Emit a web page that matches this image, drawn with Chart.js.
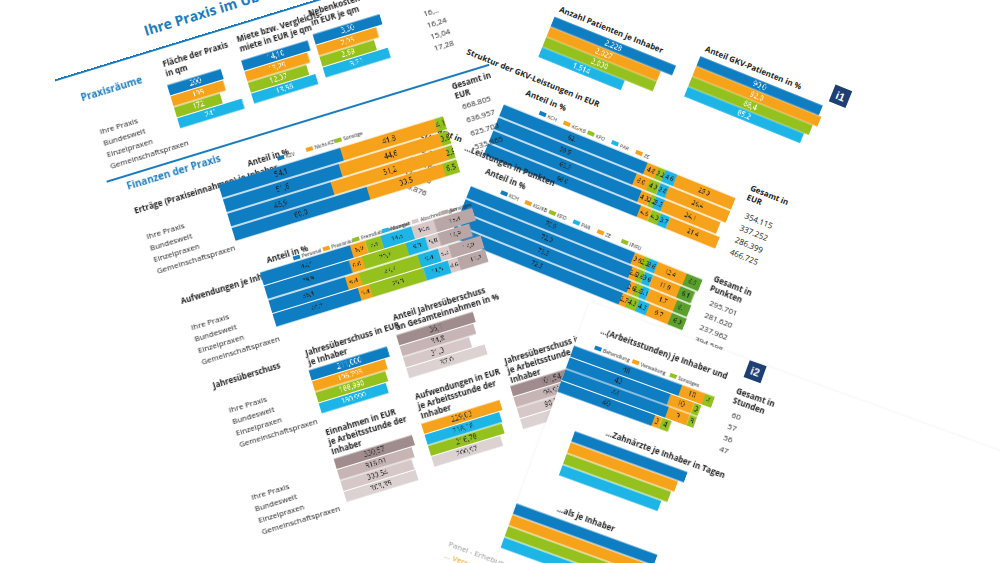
<!DOCTYPE html>
<html><head><meta charset="utf-8">
<script src="https://cdn.jsdelivr.net/npm/chart.js@4.4.1/dist/chart.umd.min.js"></script>
<style>
body{margin:0;width:1000px;height:563px;overflow:hidden;background:#fff;font-family:"Open Sans",Calibri,sans-serif;position:relative}
.page{position:absolute;transform-origin:0 0;width:520px;height:640px}
.t{position:absolute;font-size:8px;color:#222;white-space:nowrap;line-height:10px}
.b{font-weight:bold}
.h{position:absolute;font-weight:bold;color:#1a7cc0;font-size:10px;white-space:nowrap}
.line{position:absolute;height:1.5px;background:#1a7cc0}
.icon{position:absolute;width:18px;height:18px;background:#1d3f73;color:#fff;font:bold 11px sans-serif;text-align:center;line-height:18px}
canvas{position:absolute}
</style></head><body>
<script>
const rows = ['Ihre Praxis', 'Bundesweit', 'Einzelpraxen', 'Gemeinschaftspraxen'];
const C = {blue:'#0f7dc2', orange:'#f7a21b', green:'#95c11f', cyan:'#1cb5e5', g1:'#d8c8c8', g2:'#b9a6a6'};

// Praxisräume
const flaeche = [200, 195, 172, 241];
const miete = [14.10, 13.29, 12.37, 13.56];
const nebenkosten = [3.30, 2.95, 2.69, 3.21];
const raumGesamt = ['16,..', '16,24', '15,04', '17,28'];
// Erträge
const ertragLegend = ['KZV', 'Nicht-KZV', 'Sonstige'];
const ertragKZV = [54.1, 51.6, 45.9, 60.0];
const ertragNicht = [41.8, 44.6, 51.2, 33.5];
const ertragSonst = [4.1, 3.8, 2.9, 6.5];
const ertragGesamt = ['668.805', '636.957', '625.703', '535.865'];
// Aufwendungen
const aufwLegend = ['Personal', 'Praxisräume', 'Fremdlaborleistungen', 'Material', 'Abschreibungen', 'Sonstiges'];
const aufwPersonal = [42.4, 39.9, 36.1, 40.2];
const aufwRaeume = [6.9, 6.0, 6.4, 5.4];
const aufwLabor = [7.3, 20.7, 27.7, 25.3];
const aufwMaterial = [14.5, 9.3, 9.4, 11.5];
const aufwAbschr = [10.6, 5.8, 5.2, 4.6];
const aufwSonst = [18.4, 14.9, 17.0, 15.8];
// Jahresüberschuss
const jue = [211000, 196793, 188990, 180990];
const jueAnteil = [36.1, 34.8, 31.3, 37.0];
const einnStd = [330.57, 316.01, 300.54, 303.35];
const aufwStd = [229.03, 218.18, 216.78, 200.97];
const jueStd = [101.54, 96.91, 90.50, 100.69];
// Patienten
const patienten = [2228, 2027, 2030, 1514];
const gkvAnteil = [90.0, 92.0, 88.4, 85.2];
// GKV-Leistungen EUR
const gkvLegend = ['KCH', 'KG/KB', 'KFO', 'PAR', 'ZE'];
const eKCH = [62.1, 59.5, 63.9, 66.0];
const eKG = [4.8, 6.0, 4.3, 4.6];
const eKFO = [3.2, 4.3, 2.2, 4.3];
const ePAR = [4.6, 3.8, 3.5, 3.7];
const eZE = [25.3, 26.4, 24.1, 21.4];
const eGesamt = ['354.115', '337.252', '286.399', '466.725'];
const eGesamt2 = ['462.173', '440.165', '437.400', '349.876'];
// GKV-Leistungen Punkte
const pLegend = ['KCH', 'KG/KB', 'KFO', 'PAR', 'ZE', 'IP/FU'];
const pKCH = [70.9, 72.0, 73.5, 72.5];
const pKG = [3.9, 2.8, 2.6, 2.7];
const pKFO = [2.3, 2.6, 2.6, 4.3];
const pPAR = [3.6, 3.6, 3.1, 4.5];
const pZE = [12.4, 11.9, 11.7, 9.7];
const pIP = [6.9, 6.1, 6.1, 6.3];
const pGesamt = ['295.701', '281.620', '237.962', '394.598'];
// Arbeitsstunden
const stdLegend = ['Behandlung', 'Verwaltung', 'Sonstiges'];
const stdBeh = [46, 43, 44, 40];
const stdVer = [10, 10, 9, 3];
const stdSon = [4, 3, 3, 4];
const stdGesamt = ['60', '57', '56', '47'];
const tage = [40, 38, 37, 35];
const letzte = [52, 50, 49, 47];

// formatters looked up by name (functions in options would be treated as scriptable)
const FMT = {
  str: v => String(v),
  int: v => v.toLocaleString('en-US'),
  f1: v => v.toFixed(1).replace('.', ','),
  f2: v => v.toFixed(2).replace('.', ',')
};

const vlPlugin = {
  id: 'vl',
  afterDatasetsDraw(chart) {
    const o = chart.options.plugins.vl || {};
    if (o.off) return;
    const ctx = chart.ctx;
    const f = FMT[o.fmt || 'str'];
    ctx.save();
    ctx.font = (o.size || 7) + 'px "Open Sans", sans-serif';
    ctx.textAlign = 'center'; ctx.textBaseline = 'middle';
    ctx.fillStyle = o.color || '#fff';
    chart.data.datasets.forEach((ds, i) => {
      chart.getDatasetMeta(i).data.forEach((bar, j) => {
        ctx.fillText(f(ds.data[j]), (bar.x + bar.base) / 2, bar.y);
      });
    });
    ctx.restore();
  }
};

function page(left, top, deg, bg) {
  const d = document.createElement('div');
  d.className = 'page';
  d.style.left = left + 'px'; d.style.top = top + 'px';
  d.style.transform = 'rotate(' + deg + 'deg)';
  if (bg) { d.style.background = '#fff'; d.style.boxShadow = '0 0 3px rgba(0,0,0,.08)'; }
  document.body.appendChild(d);
  return d;
}
function txt(p, x, y, s, cls, extra) {
  const e = document.createElement('div');
  e.className = cls || 't';
  e.style.left = x + 'px'; e.style.top = y + 'px';
  e.innerHTML = s;
  if (extra) Object.assign(e.style, extra);
  p.appendChild(e);
}
function el(p, cls, x, y, w, s) {
  const e = document.createElement('div');
  e.className = cls; e.style.left = x + 'px'; e.style.top = y + 'px';
  if (w) e.style.width = w + 'px';
  if (s) e.textContent = s;
  p.appendChild(e);
}
function bars(p, x, y, w, h, sets, opt) {
  opt = opt || {};
  const c = document.createElement('canvas');
  c.style.left = x + 'px'; c.style.top = y + 'px';
  c.width = w; c.height = h;
  c.style.width = w + 'px'; c.style.height = h + 'px';
  p.appendChild(c);
  new Chart(c, {
    type: 'bar',
    data: { labels: rows, datasets: sets.map(s => ({ data: s[0], backgroundColor: s[1], borderWidth: 0, barPercentage: 0.92, categoryPercentage: 1 })) },
    options: {
      indexAxis: 'y', responsive: false, animation: false, devicePixelRatio: 3,
      layout: { padding: 0 },
      scales: {
        x: { display: false, stacked: !!opt.stacked, min: 0, max: opt.max },
        y: { display: false, stacked: !!opt.stacked }
      },
      plugins: { legend: { display: false }, tooltip: { enabled: false },
        vl: { fmt: opt.fmt, color: opt.color, size: opt.size, off: !!opt.off } }
    },
    plugins: [vlPlugin]
  });
}
function rowLabels(p, x, y, step) {
  rows.forEach((r, i) => txt(p, x, y + i * step, r));
}
function legend(p, x, y, names, cols, gap) {
  names.forEach((n, i) => {
    const e = document.createElement('div');
    e.className = 't';
    e.style.left = (x + i * gap) + 'px'; e.style.top = y + 'px'; e.style.fontSize = '5px';
    e.innerHTML = '<span style="display:inline-block;width:7px;height:4px;background:' + cols[i] + ';margin-right:2px"></span>' + n;
    p.appendChild(e);
  });
}
function numCol(p, x, y, step, vals) {
  vals.forEach((v, i) => txt(p, x, y + i * step, v));
}

// ---------- right page (under) ----------
const R = page(498, -41, 22);
txt(R, 76, 18, 'Anzahl Patienten je Inhaber', 'b t');
bars(R, 74, 32, 135, 44, [[patienten, [C.blue, C.orange, C.green, C.cyan]]], { max: 2300, fmt: 'int' });
txt(R, 226, 0, 'Anteil GKV-Patienten in %', 'b t');
bars(R, 224, 14, 135, 44, [[gkvAnteil, [C.blue, C.orange, C.green, C.cyan]]], { max: 92, fmt: 'f1' });
el(R, 'icon', 360, -10, 0, 'i1');
txt(R, 6, 92, 'Struktur der GKV-Leistungen in EUR', 'b t');
txt(R, 76, 108, 'Anteil in %', 'b t');
legend(R, 96, 122, gkvLegend, [C.blue, C.orange, C.green, C.cyan, C.orange], 26);
bars(R, 60, 132, 250, 56, [[eKCH, C.blue], [eKG, C.orange], [eKFO, C.green], [ePAR, C.cyan], [eZE, C.orange]], { stacked: true, max: 100, fmt: 'f1', color: '#222', size: 6 });
txt(R, 320, 112, 'Gesamt in<br>EUR', 'b t');
numCol(R, 325, 140, 13, eGesamt);
txt(R, -6, 176, 'Gesamt in<br>EUR', 'b t');
numCol(R, -8, 200, 13, eGesamt2);
txt(R, 40, 182, '...Leistungen in Punkten', 'b t');
txt(R, 68, 196, 'Anteil in %', 'b t');
legend(R, 90, 210, pLegend, [C.blue, C.orange, C.green, C.cyan, C.orange, C.green], 26);
bars(R, 60, 220, 250, 56, [[pKCH, C.blue], [pKG, C.orange], [pKFO, C.green], [pPAR, C.cyan], [pZE, C.orange], [pIP, '#5aa02c']], { stacked: true, max: 100, fmt: 'f1', color: '#222', size: 6 });
txt(R, 320, 210, 'Gesamt in<br>Punkten', 'b t');
numCol(R, 325, 234, 13, pGesamt);

// ---------- left page ----------
const L = page(58, 91, -17);
txt(L, 100, -42, 'Ihre Praxis im Überblick', 'h', { fontSize: '14px' });
el(L, 'line', 0, -12, 420);
txt(L, 20, 6, 'Praxisräume', 'h');
txt(L, 108, 0, 'Fläche der Praxis<br>in qm', 'b t');
bars(L, 106, 26, 70, 46, [[flaeche, [C.blue, C.orange, C.green, C.cyan]]], { max: 250, fmt: 'str' });
txt(L, 186, -2, 'Miete bzw. Vergleichs-<br>miete in EUR je qm', 'b t');
bars(L, 184, 24, 70, 46, [[miete, [C.blue, C.orange, C.green, C.cyan]]], { max: 14.2, fmt: 'f2' });
txt(L, 262, -6, 'Nebenkosten<br>in EUR je qm', 'b t');
bars(L, 260, 20, 70, 46, [[nebenkosten, [C.blue, C.orange, C.green, C.cyan]]], { max: 3.3, fmt: 'f2' });
numCol(L, 372, 28, 12, raumGesamt);
el(L, 'icon', 370, -6, 0, 'i4');
rowLabels(L, 28, 46, 12);
el(L, 'line', 20, 100, 400);
txt(L, 38, 104, 'Finanzen der Praxis', 'h');
txt(L, 38, 132, 'Erträge (Praxiseinnahmen) je Inhaber', 'b t');
txt(L, 160, 120, 'Anteil in %', 'b t');
legend(L, 190, 124, ertragLegend, [C.blue, C.orange, C.green], 30);
bars(L, 126, 136, 235, 60, [[ertragKZV, C.blue], [ertragNicht, C.orange], [ertragSonst, C.green]], { stacked: true, max: 100, fmt: 'f1', color: '#222' });
txt(L, 378, 106, 'Gesamt in<br>EUR', 'b t');
numCol(L, 382, 128, 14, ertragGesamt);
rowLabels(L, 42, 160, 12);
txt(L, 56, 232, 'Aufwendungen je Inhaber', 'b t');
txt(L, 150, 218, 'Anteil in %', 'b t');
legend(L, 176, 224, aufwLegend, [C.blue, C.orange, C.green, C.cyan, C.g1, C.g2], 31);
bars(L, 140, 232, 222, 58, [[aufwPersonal, C.blue], [aufwRaeume, C.orange], [aufwLabor, C.green], [aufwMaterial, C.cyan], [aufwAbschr, C.g1], [aufwSonst, C.g2]], { stacked: true, max: 100, fmt: 'f1', color: '#222', size: 6 });
rowLabels(L, 58, 260, 12);
txt(L, 62, 322, 'Jahresüberschuss', 'b t');
txt(L, 160, 318, 'Jahresüberschuss in EUR<br>je Inhaber', 'b t');
bars(L, 158, 340, 82, 46, [[jue, [C.blue, C.orange, C.green, C.cyan]]], { max: 212000, fmt: 'int' });
txt(L, 254, 310, 'Anteil Jahresüberschuss<br>an Gesamteinnahmen in %', 'b t');
bars(L, 252, 332, 82, 46, [[jueAnteil, ['#a08c8c', '#c7b5b5', '#d6c8c8', '#ddd2d2']]], { max: 37, fmt: 'f1', color: '#333' });
rowLabels(L, 70, 350, 12);
txt(L, 156, 400, 'Einnahmen in EUR<br>je Arbeitsstunde der<br>Inhaber', 'b t');
bars(L, 156, 432, 82, 46, [[einnStd, ['#a08c8c', '#c7b5b5', '#d6c8c8', '#ddd2d2']]], { max: 331, fmt: 'f2', color: '#333' });
txt(L, 252, 392, 'Aufwendungen in EUR<br>je Arbeitsstunde der<br>Inhaber', 'b t');
bars(L, 250, 424, 82, 46, [[aufwStd, [C.orange, C.cyan, C.green, '#ddd2d2']]], { max: 230, fmt: 'f2', color: '#333' });
txt(L, 348, 384, 'Jahresüberschuss in EUR<br>je Arbeitsstunde der<br>Inhaber', 'b t');
bars(L, 346, 414, 82, 46, [[jueStd, ['#a08c8c', '#c7b5b5', '#d6c8c8', '#ddd2d2']]], { max: 102, fmt: 'f2', color: '#333' });
rowLabels(L, 66, 440, 12);

// ---------- bottom page (top) ----------
const B = page(590, 302, 20, true);
txt(B, 20, 18, '...(Arbeitsstunden) je Inhaber und', 'b t');
legend(B, 20, 36, stdLegend, [C.blue, C.orange, C.green], 40);
bars(B, 0, 46, 150, 50, [[stdBeh, C.blue], [stdVer, C.orange], [stdSon, C.green]], { stacked: true, max: 60, fmt: 'str', color: '#222' });
el(B, 'icon', 170, 0, 0, 'i2');
txt(B, 168, 28, 'Gesamt in<br>Stunden', 'b t');
numCol(B, 172, 52, 12, stdGesamt);
txt(B, 60, 112, '...Zahnärzte je Inhaber in Tagen', 'b t');
bars(B, 30, 126, 120, 48, [[tage, [C.blue, C.orange, C.green, C.cyan]]], { max: 40, off: true });
txt(B, 40, 200, '...als je Inhaber', 'b t');
bars(B, 0, 214, 150, 48, [[letzte, [C.blue, C.orange, C.green, C.cyan]]], { max: 52, off: true });
txt(B, -50, 270, 'Panel - Erhebung 2018', 't', { color: '#999' });
txt(B, -50, 282, '... Versorgung in Deutschland', 't', { color: '#e0a020' });
</script>
</body></html>
